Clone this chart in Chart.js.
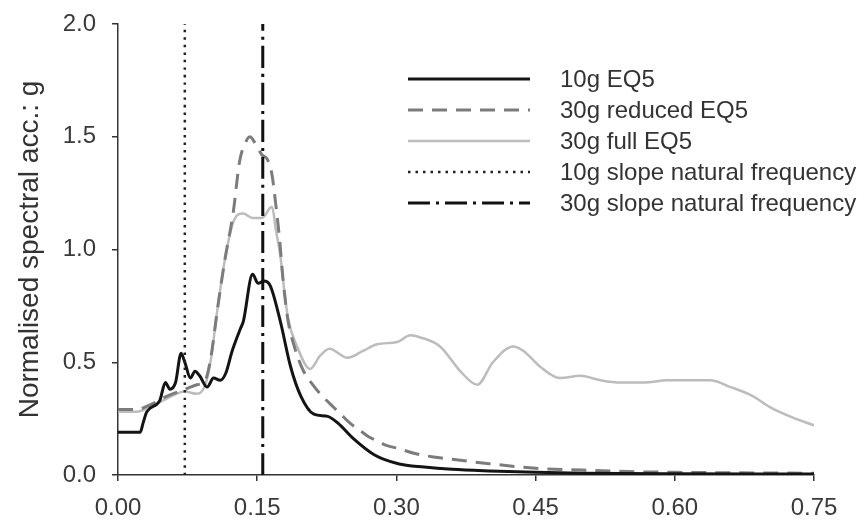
<!DOCTYPE html>
<html>
<head>
<meta charset="utf-8">
<script src="https://cdn.jsdelivr.net/npm/chart.js@4/dist/chart.umd.min.js"></script>
<style>
  html, body { margin: 0; padding: 0; background: #fff; }
  #wrap { width: 866px; height: 529px; }
</style>
</head>
<body>
<div id="wrap"><canvas id="c" width="866" height="529"></canvas></div>
<script>
// ---- data ----
const seriesNames = ["10g EQ5", "30g reduced EQ5", "30g full EQ5", "10g slope natural frequency", "30g slope natural frequency"];
const xTicks = [0, 0.15, 0.30, 0.45, 0.60, 0.75];
const yTicks = [0, 0.5, 1.0, 1.5, 2.0];

const freq10 = [0, 0.024, 0.027, 0.031, 0.045, 0.051, 0.056, 0.062, 0.068, 0.072, 0.078, 0.083, 0.088, 0.096, 0.103, 0.110, 0.116, 0.123, 0.132, 0.135, 0.145, 0.151, 0.157, 0.164, 0.175, 0.186, 0.197, 0.211, 0.226, 0.237, 0.254, 0.276, 0.302, 0.330, 0.36, 0.40, 0.45, 0.50, 0.60, 0.75];
const acc10 = [0.19, 0.19, 0.23, 0.28, 0.33, 0.41, 0.38, 0.41, 0.54, 0.50, 0.43, 0.46, 0.44, 0.39, 0.43, 0.42, 0.45, 0.55, 0.65, 0.68, 0.89, 0.85, 0.86, 0.84, 0.68, 0.48, 0.35, 0.27, 0.26, 0.23, 0.16, 0.09, 0.05, 0.035, 0.025, 0.018, 0.012, 0.008, 0.005, 0.004];

const freq30r = [0, 0.020, 0.034, 0.053, 0.072, 0.085, 0.094, 0.100, 0.107, 0.115, 0.124, 0.131, 0.137, 0.142, 0.148, 0.155, 0.161, 0.166, 0.170, 0.174, 0.178, 0.183, 0.190, 0.200, 0.210, 0.220, 0.230, 0.240, 0.250, 0.260, 0.270, 0.280, 0.290, 0.300, 0.320, 0.340, 0.360, 0.40, 0.45, 0.50, 0.55, 0.60, 0.65, 0.70, 0.75];
const acc30r = [0.29, 0.29, 0.31, 0.35, 0.38, 0.40, 0.42, 0.52, 0.73, 0.95, 1.16, 1.39, 1.47, 1.50, 1.47, 1.42, 1.40, 1.33, 1.20, 1.05, 0.86, 0.69, 0.57, 0.46, 0.40, 0.35, 0.31, 0.27, 0.23, 0.20, 0.17, 0.15, 0.13, 0.12, 0.095, 0.08, 0.07, 0.05, 0.03, 0.022, 0.015, 0.012, 0.01, 0.009, 0.008];

const freq30f = [0, 0.020, 0.034, 0.053, 0.072, 0.085, 0.094, 0.100, 0.107, 0.115, 0.124, 0.135, 0.145, 0.155, 0.166, 0.170, 0.175, 0.178, 0.183, 0.193, 0.207, 0.218, 0.228, 0.247, 0.264, 0.279, 0.301, 0.315, 0.326, 0.347, 0.369, 0.387, 0.404, 0.426, 0.437, 0.455, 0.476, 0.498, 0.520, 0.541, 0.566, 0.592, 0.638, 0.660, 0.684, 0.703, 0.724, 0.75];
const acc30f = [0.28, 0.28, 0.30, 0.34, 0.37, 0.36, 0.40, 0.51, 0.73, 0.95, 1.12, 1.16, 1.14, 1.14, 1.19, 1.09, 0.97, 0.86, 0.70, 0.57, 0.47, 0.53, 0.56, 0.52, 0.55, 0.58, 0.59, 0.62, 0.61, 0.57, 0.46, 0.40, 0.50, 0.57, 0.55, 0.48, 0.43, 0.44, 0.42, 0.41, 0.41, 0.42, 0.42, 0.39, 0.35, 0.30, 0.26, 0.22];

const natFreq10 = 0.072;
const natFreq30 = 0.156;
const natLineY = [0, 2.0];

// ---- helpers ----
const pts = (xs, ys) => xs.map((x, i) => ({ x: x, y: ys[i] }));

const styles = [
  { color: '#141414', width: 3, dash: [] },
  { color: '#7c7c7c', width: 3, dash: [15, 9] },
  { color: '#bcbcbc', width: 2.5, dash: [] },
  { color: '#222222', width: 2.5, dash: [2.5, 5] },
  { color: '#111111', width: 3, dash: [22, 6, 3, 6] }
];

const datasets = [
  { data: pts(freq10, acc10) },
  { data: pts(freq30r, acc30r) },
  { data: pts(freq30f, acc30f) },
  { data: pts([natFreq10, natFreq10], natLineY) },
  { data: pts([natFreq30, natFreq30], natLineY) }
].map((d, i) => Object.assign(d, {
  label: seriesNames[i],
  borderColor: styles[i].color,
  borderWidth: styles[i].width,
  borderDash: styles[i].dash,
  pointRadius: 0,
  fill: false,
  cubicInterpolationMode: 'monotone',
  borderCapStyle: 'butt'
}));
datasets[0].order = 2; datasets[1].order = 3; datasets[2].order = 4; datasets[3].order = 1; datasets[4].order = 0;

const legendPlugin = {
  id: 'customLegend',
  afterDraw(chart) {
    const ctx = chart.ctx;
    ctx.save();
    const x0 = 408, x1 = 530, tx = 560, y0 = 79, dy = 31;
    seriesNames.forEach((name, i) => {
      const y = y0 + i * dy;
      const s = styles[i];
      ctx.beginPath();
      ctx.setLineDash(s.dash);
      ctx.lineWidth = s.width;
      ctx.strokeStyle = s.color;
      ctx.moveTo(x0, y);
      ctx.lineTo(x1, y);
      ctx.stroke();
      ctx.setLineDash([]);
      ctx.fillStyle = '#333';
      ctx.font = '24px "Liberation Sans", Arial, sans-serif';
      ctx.textBaseline = 'middle';
      ctx.textAlign = 'left';
      ctx.fillText(name, tx, y + 1);
    });
    ctx.restore();
  }
};

const tickFont = { family: '"Liberation Sans", Arial, sans-serif', size: 24 };

new Chart(document.getElementById('c'), {
  type: 'line',
  data: { datasets: datasets },
  options: {
    responsive: false,
    animation: false,
    layout: { padding: { top: 24, right: 52, left: 0, bottom: 0 } },
    plugins: { legend: { display: false }, tooltip: { enabled: false } },
    scales: {
      x: {
        type: 'linear',
        min: 0, max: 0.75,
        afterBuildTicks: (s) => { s.ticks = xTicks.map(v => ({ value: v })); },
        afterFit: (s) => { s.height = 54; },
        ticks: {
          callback: (v) => Number(v).toFixed(2),
          font: tickFont, color: '#3a3a3a', padding: 13, maxRotation: 0, autoSkip: false
        },
        grid: { drawOnChartArea: false, drawTicks: true, tickLength: 6, color: '#333', lineWidth: 1.5 },
        border: { display: true, color: '#333', width: 1.5 }
      },
      y: {
        min: 0, max: 2.0,
        afterBuildTicks: (s) => { s.ticks = yTicks.map(v => ({ value: v })); },
        afterFit: (s) => { s.width = 118; s.paddingTop = 0; s.paddingBottom = 0; },
        ticks: {
          callback: (v) => Number(v).toFixed(1),
          font: tickFont, color: '#3a3a3a', padding: 16
        },
        grid: { drawOnChartArea: false, drawTicks: true, tickLength: 6, color: '#333', lineWidth: 1.5 },
        border: { display: true, color: '#333', width: 1.5 },
        title: {
          display: true,
          text: 'Normalised spectral acc.: g',
          font: { family: '"Liberation Sans", Arial, sans-serif', size: 28 },
          color: '#333',
          padding: { top: 13, bottom: 0 }
        }
      }
    }
  },
  plugins: [legendPlugin]
});
</script>
</body>
</html>
